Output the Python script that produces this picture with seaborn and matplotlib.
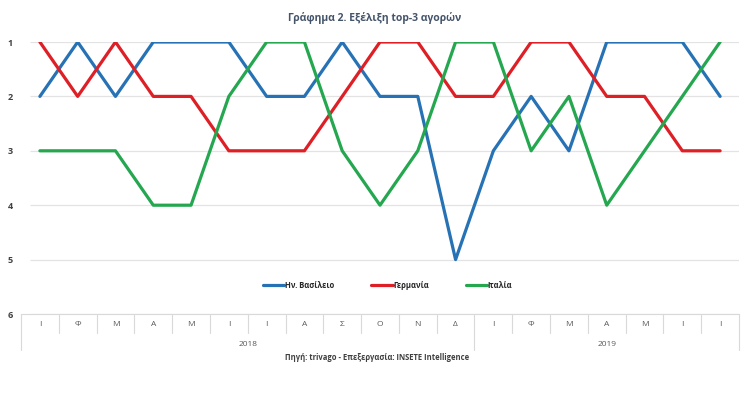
import matplotlib
matplotlib.use('Agg')
import matplotlib.pyplot as plt
import matplotlib.transforms as mtransforms
from matplotlib.lines import Line2D
import numpy as np
import pandas as pd
import seaborn as sns

# months of 2018 and first 7 months of 2019
months = ['Ι', 'Φ', 'Μ', 'Α', 'Μ', 'Ι', 'Ι', 'Α', 'Σ', 'Ο', 'Ν', 'Δ',
          'Ι', 'Φ', 'Μ', 'Α', 'Μ', 'Ι', 'Ι']
years = ['2018', '2019']
year_counts = [12, 7]

uk = [2, 1, 2, 1, 1, 1, 2, 2, 1, 2, 2, 5, 3, 2, 3, 1, 1, 1, 2]
germany = [1, 2, 1, 2, 2, 3, 3, 3, 2, 1, 1, 2, 2, 1, 1, 2, 2, 3, 3]
italy = [3, 3, 3, 4, 4, 2, 1, 1, 3, 4, 3, 1, 1, 3, 2, 4, 3, 2, 1]

names = ['Ην. Βασίλειο', 'Γερμανία', 'Ιταλία']
colors = ['#2672B5', '#DE1F26', '#25A750']

rows = []
for name, vals in zip(names, [uk, germany, italy]):
    for i, v in enumerate(vals):
        rows.append({'idx': i, 'rank': v, 'market': name})
df = pd.DataFrame(rows)

sns.set_style('white')
plt.rcParams['font.family'] = ['Open Sans', 'DejaVu Sans']

fig = plt.figure(figsize=(7.5, 3.97), dpi=100)
ax = fig.add_axes([21/750, 1-314/397, (739-21)/750, (314-42)/397])

n = len(months)
ax.hlines([1, 2, 3, 4, 5, 6], -0.26, n - 0.5, color='#E3E3E3', lw=0.9, zorder=0)

sns.lineplot(data=df, x='idx', y='rank', hue='market', hue_order=names,
             palette=colors, lw=2.3, ax=ax, legend=False, zorder=3)

ax.set_xlim(-0.5, n - 0.5)
ax.set_ylim(6, 1)
for s in ax.spines.values():
    s.set_visible(False)
ax.set_xlabel('')
ax.set_ylabel('')
ax.set_yticks([1, 2, 3, 4, 5, 6])
ax.set_yticklabels(['1', '2', '3', '4', '5', '6'], fontsize=6.5, fontweight='bold',
                   color='#404040')
ax.tick_params(axis='y', length=0, pad=6)
ax.set_xticks([])


def fy(p):
    # pixel row -> figure fraction
    return 1 - p/397


# category table under the plot
trans = mtransforms.blended_transform_factory(ax.transData, fig.transFigure)
ax.plot([-0.5, n - 0.5], [fy(314), fy(314)], transform=trans, color='#D9D9D9',
        lw=0.8, clip_on=False)
bounds = np.cumsum([0] + year_counts)
for i in range(n + 1):
    bottom = 350 if i in bounds else 333
    ax.plot([i - 0.5, i - 0.5], [fy(314), fy(bottom)], transform=trans,
            color='#D9D9D9', lw=0.8, clip_on=False)
for i, m in enumerate(months):
    ax.text(i, fy(325), m, transform=trans, ha='center', va='center',
            fontsize=6, color='#595959')
start = 0
for yr, c in zip(years, year_counts):
    ax.text(start + (c - 1)/2, fy(344), yr, transform=trans, ha='center',
            va='center', fontsize=6, color='#595959')
    start += c

# legend
handles = [Line2D([], [], color=c, lw=2.3) for c in colors]
fig.legend(handles, names, loc='center', bbox_to_anchor=(0.517, fy(285)), ncol=3,
           frameon=False, handlelength=2.8, handletextpad=0.1,
           columnspacing=4.8, prop={'weight': 'bold', 'size': 5.5})

fig.text(0.5, fy(18), 'Γράφημα 2. Εξέλιξη top-3 αγορών', ha='center', va='center',
         fontsize=7.5, fontweight='bold', color='#44546A')
fig.text(0.503, fy(357), 'Πηγή: trivago - Επεξεργασία: INSETE Intelligence',
         ha='center', va='center', fontsize=5.5, fontweight='bold', color='#404040')

fig.savefig('out.png', dpi=100, facecolor='white')
